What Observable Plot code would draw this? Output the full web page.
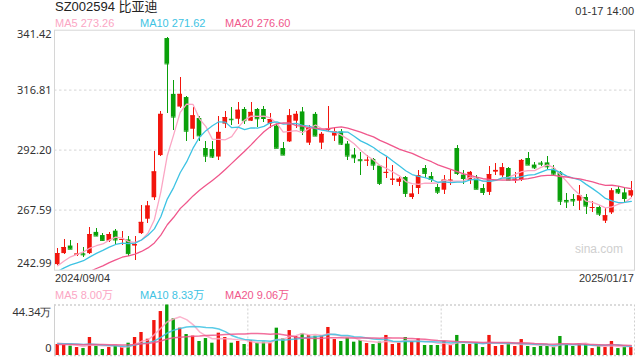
<!DOCTYPE html>
<html><head><meta charset="utf-8">
<script src="https://cdn.jsdelivr.net/npm/d3@7"></script>
<script src="https://cdn.jsdelivr.net/npm/@observablehq/plot@0.6"></script>
<style>
body{margin:0;background:#fff}
#wrap{position:relative;width:640px;height:360px;font-family:Arial,"Liberation Sans","Noto Sans CJK SC",sans-serif;color:#333;overflow:hidden;background:#fff}
.t{position:absolute;white-space:nowrap;line-height:1}
#main,#vol{position:absolute;left:0}
#main{top:0}
#vol{top:300px}
svg{overflow:visible}
</style></head><body>
<div id="wrap">
  <div class="t" id="title" style="left:55px;top:0px;font-size:13px;color:#222"></div>
  <div class="t" id="time" style="right:6px;top:6px;font-size:11px;color:#333"></div>
  <div id="legend"></div>
  <div class="t" id="d0" style="left:55px;top:273px;font-size:11px;color:#333"></div>
  <div class="t" id="d1" style="right:6px;top:273px;font-size:11px;color:#333"></div>
  <div id="vlegend"></div>
  <div class="t" id="wm" style="right:17px;top:243px;font-size:12px;color:#cfcfcf"></div>
  <div id="main"></div>
  <div id="vol"></div>
</div>
<script>
const titleText = "SZ002594 比亚迪";
const timeText = "01-17 14:00";
const dateLabels = ["2024/09/04", "2025/01/17"];
const maNames = ["MA5", "MA10", "MA20"];
const maLegendValues = ["273.26", "271.62", "276.60"];
const volLegendValues = ["8.00万", "8.33万", "9.06万"];
const maColors = ["#fba6c4", "#3ec3e3", "#f0578c"];
const yTicks = [242.99, 267.59, 292.20, 316.81, 341.42];
const yTickLabels = ["242.99", "267.59", "292.20", "316.81", "341.42"];
const volTicks = [0, 44.34];
const volTickLabels = ["0", "44.34万"];
const watermark = "sina.com";

const opens = [245.3,249.8,252.9,249.2,249.7,249.8,258.5,257.2,254.9,259.0,
255.2,255.4,252.9,258.0,263.9,272.7,290.0,338.0,315.1,309.9,
313.8,300.8,305.2,292.9,292.5,289.4,302.9,304.9,304.9,308.9,
304.1,308.9,308.9,302.9,302.1,292.9,295.6,304.1,307.9,295.1,
306.9,295.1,300.4,298.0,299.7,294.7,290.2,288.3,287.9,288.4,
285.7,282.8,279.9,279.0,281.0,272.8,276.5,284.7,281.4,276.9,
275.8,279.5,292.9,282.0,279.9,280.6,276.5,274.9,283.2,281.7,
284.7,279.9,279.9,288.8,286.1,286.9,287.0,284.4,283.1,271.6,
272.0,271.3,272.8,268.3,268.7,263.1,266.5,276.1,274.7,273.4];
const highs = [251.9,255.6,255.2,253.9,252.4,260.4,260.0,258.0,258.6,259.6,
259.0,256.7,256.7,269.7,271.3,291.8,307.9,338.5,320.7,321.9,
314.1,309.9,305.9,295.9,295.6,306.2,307.9,309.7,311.8,309.7,
311.8,309.2,310.1,307.3,302.9,295.4,308.9,308.2,309.6,302.3,
307.7,299.5,310.1,301.5,300.7,295.8,292.9,291.3,290.0,288.8,
286.1,289.2,286.1,280.9,281.3,277.9,283.8,285.9,283.1,278.3,
281.7,284.0,294.0,284.0,283.6,282.0,278.3,285.7,286.8,286.8,
285.0,283.1,288.4,291.3,287.0,287.7,289.8,286.1,283.6,274.5,
274.0,277.6,274.2,271.3,269.7,268.3,276.5,277.2,276.9,279.2];
const lows = [244.8,249.6,251.3,248.5,248.3,249.4,256.8,254.9,254.4,253.3,
253.0,248.5,246.8,257.8,262.1,271.4,289.8,307.3,300.4,309.3,
295.9,296.7,295.6,287.0,288.8,288.1,301.1,302.5,302.6,302.8,
303.8,301.5,303.7,301.1,293.0,290.2,295.4,301.1,298.1,294.0,
297.7,292.6,299.5,295.6,294.0,288.0,286.8,282.0,285.7,284.0,
277.9,280.6,277.9,277.2,272.8,272.1,274.2,280.5,279.0,274.2,
274.2,277.9,282.0,278.1,278.1,276.2,273.5,273.8,282.0,281.0,
279.7,278.6,279.5,285.8,284.2,285.7,284.0,282.0,269.7,268.3,
269.0,267.6,265.8,266.5,264.9,262.1,266.0,274.2,270.8,272.8];
const closes = [249.8,252.3,251.6,249.6,249.3,257.6,257.0,255.2,257.6,255.4,
255.6,249.8,253.5,262.6,269.3,283.3,306.9,327.6,305.8,315.1,
300.0,306.3,298.1,289.8,289.4,299.5,305.6,304.7,308.6,304.3,
307.7,305.1,305.2,304.8,293.0,290.2,306.3,306.9,300.4,301.1,
298.0,298.7,300.8,299.7,294.7,289.8,289.1,287.9,288.1,286.1,
278.6,283.1,280.3,280.3,274.5,274.2,281.7,282.7,280.2,275.0,
279.9,279.9,282.7,280.6,283.1,276.2,274.9,282.2,283.9,285.0,
279.9,280.3,288.0,286.1,285.0,286.5,285.4,282.4,271.3,271.0,
271.4,273.5,269.3,268.7,266.0,265.3,275.5,274.7,272.4,275.5];
// volume in 万 (10k lots)
const volumes = [9.66,8.78,8.2,7.0,6.1,15.8,8.2,5.27,7.0,8.5,
7.0,10.8,15.8,20.2,14.3,30.7,38.6,44.34,32.2,24.0,
18.4,17.0,12.3,14.9,10.8,19.6,15.8,10.8,12.3,9.66,
12.9,10.8,11.7,10.8,24.0,14.6,21.9,16.7,19.0,17.6,
17.0,17.6,24.6,14.0,12.3,15.2,11.7,13.2,10.5,9.66,
11.7,17.6,9.66,10.8,15.8,12.3,14.6,8.78,8.78,8.78,
12.3,8.78,17.6,9.66,9.66,11.4,7.0,17.6,7.9,8.78,
10.2,7.9,14.0,7.9,7.0,7.9,7.9,7.3,16.7,9.66,
7.9,10.2,9.66,6.1,7.9,7.0,12.3,6.1,7.0,7.0];
// estimated sessions before the first visible day (needed for the moving averages)
const prevCloses = [226.5,228.0,229.5,231.0,230.0,232.0,233.5,231.5,232.5,234.0,
238.0,239.5,241.0,240.5,242.0,242.5,243.0,244.5,244.2];
const prevVolumes = [9.0,8.5,9.5,10.0,8.8,9.2,8.0,8.6,9.4,10.5,
9.0,8.3,9.8,10.2,11.5,12.0,10.8,11.0,11.5];
const maPeriods = [5, 10, 20];

const red = "#f2150d", green = "#0aa00a";

// text
document.getElementById("title").textContent = titleText;
document.getElementById("time").textContent = timeText;
document.getElementById("d0").textContent = dateLabels[0];
document.getElementById("d1").textContent = dateLabels[1];
document.getElementById("wm").textContent = watermark;
const legX = [55, 140, 225];
function legend(id, vals, top) {
  const el = document.getElementById(id);
  maNames.forEach((nm, k) => {
    const d = document.createElement("div");
    d.className = "t";
    d.style.cssText = `left:${legX[k]}px;top:${top}px;font-size:11px;color:${maColors[k]}`;
    d.textContent = nm + " " + vals[k];
    el.appendChild(d);
  });
}
legend("legend", maLegendValues, 18);
legend("vlegend", volLegendValues, 290);

const n = closes.length;
const data = d3.range(n).map(i => ({i, o: opens[i], h: highs[i], l: lows[i], c: closes[i], v: volumes[i]}));
const ups = data.filter(d => d.c >= d.o);
const downs = data.filter(d => d.c < d.o);

function movingAvg(vals, prev, k) {
  const all = prev.concat(vals);
  return vals.map((_, i) => d3.mean(all.slice(prev.length + i - k + 1, prev.length + i + 1)));
}
const priceMA = maPeriods.map(k => movingAvg(closes, prevCloses, k));
const volMA = maPeriods.map(k => movingAvg(volumes, prevVolumes, k));

const xOpt = {type: "linear", domain: [-0.5, n - 0.5], axis: null};
const bw = 0.36, vw = 0.26;

function candleMarks(set, col) {
  return [
    Plot.ruleX(set, {x: "i", y1: "l", y2: "h", stroke: col, strokeWidth: 1, shapeRendering: "crispEdges"}),
    Plot.rect(set, {x1: d => d.i - bw, x2: d => d.i + bw, y1: "o", y2: "c", fill: col}),
    Plot.ruleY(set, {y: "c", x1: d => d.i - bw, x2: d => d.i + bw, stroke: col, strokeWidth: 1})
  ];
}

const labelStyle = {frameAnchor: "left", textAnchor: "end", dx: -3, fontSize: 11, fill: "#333"};
const mainPlot = Plot.plot({
  width: 640, height: 272,
  marginTop: 29.7, marginBottom: 2.3, marginLeft: 54, marginRight: 6,
  style: {background: "transparent", overflow: "visible"},
  x: xOpt,
  y: {domain: [yTicks[0], yTicks[yTicks.length - 1]], axis: null},
  marks: [
    Plot.ruleY(yTicks.slice(1, -1), {stroke: "#dedede", strokeWidth: 1.3, strokeDasharray: "2.5,2.5"}),
    ...candleMarks(ups, red),
    ...candleMarks(downs, green),
    ...priceMA.map((s, k) => Plot.line(s, {x: (d, i) => i, y: d => d, stroke: maColors[k], strokeWidth: 1.3, clip: true})),
    Plot.frame({stroke: "#d6d6d6"}),
    Plot.text([0], {...labelStyle, y: () => yTicks[0], text: () => yTickLabels[0], dy: -6.5}),
    Plot.text([1, 2, 3], {...labelStyle, y: j => yTicks[j], text: j => yTickLabels[j]}),
    Plot.text([4], {...labelStyle, y: () => yTicks[4], text: () => yTickLabels[4], dy: 4.5})
  ]
});
document.getElementById("main").appendChild(mainPlot);

const volPlot = Plot.plot({
  width: 640, height: 58,
  marginTop: 4.5, marginBottom: 3, marginLeft: 54, marginRight: 6,
  style: {background: "transparent", overflow: "visible"},
  x: xOpt,
  y: {domain: [volTicks[0], volTicks[1]], axis: null},
  marks: [
    Plot.ruleX([n / 3 - 0.5, 2 * n / 3 - 0.5, n - 0.5], {stroke: "#cfcfcf", strokeDasharray: "2,2"}),
    Plot.ruleY(volTicks, {stroke: "#cfcfcf", strokeWidth: 1.3, strokeDasharray: "2,2"}),
    Plot.ruleX([-0.5], {stroke: "#d0d0d0"}),
    Plot.rect(ups, {x1: d => d.i - vw, x2: d => d.i + vw, y1: 0, y2: "v", fill: red}),
    Plot.rect(downs, {x1: d => d.i - vw, x2: d => d.i + vw, y1: 0, y2: "v", fill: green}),
    ...volMA.map((s, k) => Plot.line(s, {x: (d, i) => i, y: d => d, stroke: maColors[k], strokeWidth: 1.5, strokeOpacity: 0.85, clip: true})),
    Plot.text([0], {...labelStyle, y: () => volTicks[0], text: () => volTickLabels[0], dy: -7}),
    Plot.text([1], {...labelStyle, y: () => volTicks[1], text: () => volTickLabels[1], dy: 7})
  ]
});
document.getElementById("vol").appendChild(volPlot);
</script>
</body></html>
